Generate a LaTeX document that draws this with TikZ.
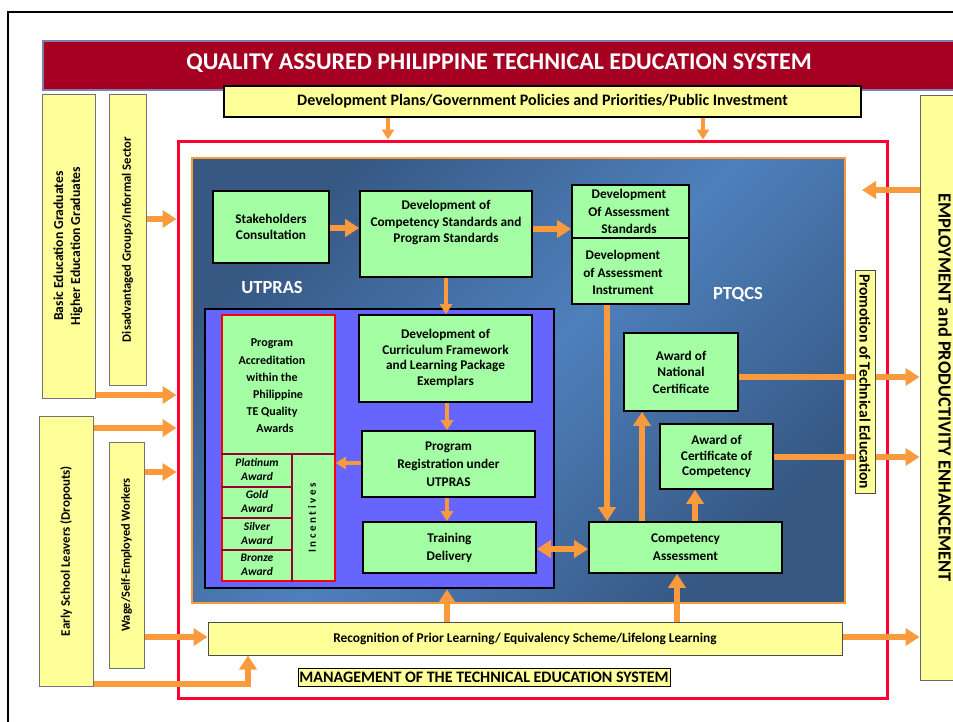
\documentclass[tikz,border=0pt]{standalone}
\usepackage{fontspec}
\setmainfont{Carlito}
\usetikzlibrary{arrows.meta}
\definecolor{ttl}{HTML}{A50021}
\definecolor{ttlb}{HTML}{7F7FAF}
\definecolor{yel}{HTML}{FFFF99}
\definecolor{grn}{HTML}{A4FFA4}
\definecolor{org}{HTML}{F99A3C}
\definecolor{redf}{HTML}{FF0033}
\definecolor{vio}{HTML}{6666FF}
\definecolor{bdk}{HTML}{365883}
\definecolor{blt}{HTML}{4E80BC}
\definecolor{dred}{HTML}{990033}
\begin{document}
\begin{tikzpicture}[x=1pt,y=-1pt,
  gbox/.style={draw=black, line width=1.6pt, fill=grn, align=center, inner sep=1pt,
    font=\fontsize{13.3}{16.5}\selectfont\bfseries},
  ybox/.style={draw=black!55, line width=1pt, fill=yel, inner sep=0pt,
    font=\fontsize{13}{16}\selectfont\bfseries},
  arr/.style={draw=org, line width=5.5pt, -{Triangle[width=17pt,length=14pt]}},
  arrs/.style={draw=org, line width=4pt, -{Triangle[width=12pt,length=10pt]}},
  darr/.style={draw=org, line width=5.5pt, {Triangle[width=17pt,length=14pt]}-{Triangle[width=17pt,length=14pt]}},
  wlab/.style={text=white, font=\fontsize{18.5}{20}\selectfont\bfseries},
  awt/.style={font=\fontsize{11.5}{14}\selectfont\bfseries\itshape, align=center, inner sep=0pt}
]
\useasboundingbox (0,0) rectangle (953,721);
\begin{scope}
\clip (0,0) rectangle (953,721);
% outer frame
\draw[line width=2.5pt] (8,730) -- (8,12) -- (970,12);
% title
\node[draw=ttlb, line width=2pt, fill=ttl, minimum width=920, minimum height=49, inner sep=0pt] (title) at (503,65.5) {};
\node[text=white, font=\fontsize{24}{26}\selectfont\bfseries] (titletxt) at (499,63) {QUALITY ASSURED PHILIPPINE TECHNICAL EDUCATION SYSTEM};
% development plans
\node[draw=black, line width=2pt, fill=yel, minimum width=637, minimum height=31, inner sep=0pt,
  font=\fontsize{16}{18}\selectfont\bfseries] (dp) at (542.5,101.5)
  {Development Plans/Government Policies and Priorities/Public Investment};
% left boxes
\node[ybox, minimum width=53, minimum height=304, font=\fontsize{13.7}{16}\selectfont\bfseries] (basic) at (68.5,246)
  {\rotatebox{90}{\begin{tabular}{@{}c@{}}Basic Education Graduates\\[1pt]Higher Education Graduates\end{tabular}}};
\node[ybox, minimum width=37, minimum height=291, font=\fontsize{12.7}{16}\selectfont\bfseries] (dis) at (127.5,239.5)
  {\rotatebox{90}{Disadvantaged Groups/Informal Sector}};
\node[ybox, minimum width=54, minimum height=270] (early) at (66,551)
  {\rotatebox{90}{Early School Leavers (Dropouts)}};
\node[ybox, minimum width=35, minimum height=226, font=\fontsize{12.4}{16}\selectfont\bfseries] (wage) at (126.5,555)
  {\rotatebox{90}{Wage/Self-Employed Workers}};
% red frame
\node[draw=redf, line width=3pt, minimum width=709, minimum height=557, inner sep=0pt] (rf) at (532.5,419.5) {};
% blue panel
\node[draw=org, line width=2pt, minimum width=653, minimum height=445, inner sep=0pt,
  left color=bdk, right color=bdk, middle color=blt, shading angle=45] (bp) at (518.5,380.5) {};
\node[wlab] (utl) at (272,287) {UTPRAS};
\node[wlab] (ptl) at (738,295) {PTQCS};
% UTPRAS box
\node[draw=black, line width=2.5pt, fill=vio, minimum width=349, minimum height=279, inner sep=0pt] (ub) at (379.5,448.5) {};
% green boxes
\node[gbox, minimum width=116, minimum height=72] (sc) at (271,227) {Stakeholders\\Consultation};
\node[gbox, minimum width=172, minimum height=86] (dc) at (446,234) {Development of\\Competency Standards and\\Program Standards\\[8pt]};
\node[gbox, minimum width=117, minimum height=119] (da) at (630.5,244.5) {};
\draw[line width=1.3pt] (da.west |- 0,238) -- (da.east |- 0,238);
\node[font=\fontsize{13.3}{17.5}\selectfont\bfseries, align=center, inner sep=0pt] (da1) at (629,211.5) {Development\\Of Assessment\\Standards};
\node[font=\fontsize{13.3}{17.5}\selectfont\bfseries, align=center, inner sep=0pt] (da2) at (623,272.5) {Development\\of Assessment\\Instrument};
\node[gbox, minimum width=173, minimum height=87, font=\fontsize{13.3}{15.7}\selectfont\bfseries] (cur) at (445.5,358.5) {Development of\\Curriculum Framework\\and Learning Package\\Exemplars};
\node[gbox, minimum width=173, minimum height=66, font=\fontsize{13.3}{18}\selectfont\bfseries] (pr) at (448.5,464) {Program\\Registration under\\UTPRAS};
\node[gbox, minimum width=173, minimum height=51, font=\fontsize{13.3}{18}\selectfont\bfseries] (td) at (449.5,547.5) {Training\\Delivery};
\node[gbox, minimum width=193, minimum height=51, font=\fontsize{13.3}{18}\selectfont\bfseries] (ca) at (685.5,547.5) {Competency\\Assessment};
\node[gbox, minimum width=114, minimum height=78] (nc) at (681,372) {Award of\\National\\Certificate};
\node[gbox, minimum width=113, minimum height=65, font=\fontsize{13.3}{15.5}\selectfont\bfseries] (coc) at (716.5,456.5) {Award of\\Certificate of\\Competency};
% awards box
\node[draw=red, line width=1.6pt, fill=grn, minimum width=113, minimum height=266, inner sep=0pt] (aw) at (278.5,448) {};
\draw[dred, line width=1.2pt] (aw.west |- 0,454) -- (aw.east |- 0,454);
\draw[dred, line width=1.2pt] (292,454) -- (aw.south -| 292,0);
\draw[dred, line width=1.2pt] (aw.west |- 0,487) -- (292,487);
\draw[dred, line width=1.2pt] (aw.west |- 0,518) -- (292,518);
\draw[dred, line width=1.2pt] (aw.west |- 0,550) -- (292,550);
\node[font=\fontsize{12}{17.2}\selectfont\bfseries, align=center, inner sep=0pt] (awt) at (272,386) {Program\\Accreditation\\within the\\\hspace*{12pt}Philippine\\TE Quality\\\hspace*{6pt}Awards};
\node[awt] (plat) at (257,469) {Platinum\\Award};
\node[awt] (gold) at (257,501.5) {Gold\\Award};
\node[awt] (silv) at (257,533) {Silver\\Award};
\node[awt] (bron) at (257,564.5) {Bronze\\Award};
\node[font=\fontsize{11}{12}\selectfont\bfseries, inner sep=0pt] (inc) at (312,518) {\rotatebox{90}{I n c e n t i v e s}};
% RPL and management
\node[draw=black!70, line width=1pt, fill=yel, minimum width=634, minimum height=33, inner sep=0pt,
  font=\fontsize{13.4}{15}\selectfont\bfseries] (rpl) at (525,638.5)
  {Recognition of Prior Learning/ Equivalency Scheme/Lifelong Learning};
\node[draw=black, line width=1pt, fill=yel, minimum width=372, minimum height=18, inner sep=0pt,
  font=\fontsize{16}{17}\selectfont\bfseries] (mg) at (484,677)
  {MANAGEMENT OF THE TECHNICAL EDUCATION SYSTEM};
% employment box
\node[draw=black!60, line width=1pt, fill=yel, minimum width=50, minimum height=585, inner sep=0pt,
  font=\fontsize{18.5}{20}\selectfont\bfseries] (emp) at (945,387.5) {\rotatebox{-90}{EMPLOYMENT and PRODUCTIVITY ENHANCEMENT}};
\coordinate (empin) at (862,190);
% arrows
\draw[arrs] (dp.south -| 388,0) -- (rf.north -| 388,0);
\draw[arrs] (dp.south -| 703,0) -- (rf.north -| 703,0);
\draw[arr] (dis.east |- 0,219) -- (rf.west |- 0,219);
\draw[arr] (basic.east |- 0,395) -- (rf.west |- 0,395);
\draw[arr] (early.east |- 0,428) -- (rf.west |- 0,428);
\draw[arr] (wage.east |- 0,472) -- (rf.west |- 0,472);
\draw[arr] (wage.east |- 0,637) -- (rpl.west |- 0,637);
\draw[arr] (early.east |- 0,684) -| (rpl.south -| 248,0);
\draw[arr] (rpl.east |- 0,637) -- (emp.west |- 0,637);
\draw[arr] (rpl.north -| 447,0) -- (ub.south -| 447,0);
\draw[arr] (rpl.north -| 677,0) -- (ca.south -| 677,0);
\draw[arr] (emp.west |- empin) -- (empin);
\draw[arr] (sc.east |- 0,228) -- (dc.west |- 0,228);
\draw[arr] (dc.east |- 0,229) -- (da.west |- 0,229);
\draw[arrs] (dc.south -| 446,0) -- (cur.north -| 446,0);
\draw[arrs] (cur.south -| 447,0) -- (pr.north -| 447,0);
\draw[arrs] (pr.west |- 0,463) -- (aw.east |- 0,463);
\draw[arrs] (pr.south -| 447,0) -- (td.north -| 447,0);
\draw[darr] (td.east |- 0,549) -- (ca.west |- 0,549);
\draw[arr] (da.south -| 607,0) -- (ca.north -| 607,0);
\draw[arr] (ca.north -| 642,0) -- (nc.south -| 642,0);
\draw[arr] (ca.north -| 695,0) -- (coc.south -| 695,0);
\draw[arr] (nc.east |- 0,377) -- (emp.west |- 0,377);
\draw[arr] (coc.east |- 0,457) -- (emp.west |- 0,457);
% promotion box
\node[draw=black!70, line width=1pt, fill=yel, minimum width=20, minimum height=223, inner sep=0pt,
  font=\fontsize{15.5}{16}\selectfont\bfseries] (prom) at (865,381.5) {\rotatebox{-90}{Promotion of Technical Education}};
\end{scope}
\end{tikzpicture}
\end{document}
